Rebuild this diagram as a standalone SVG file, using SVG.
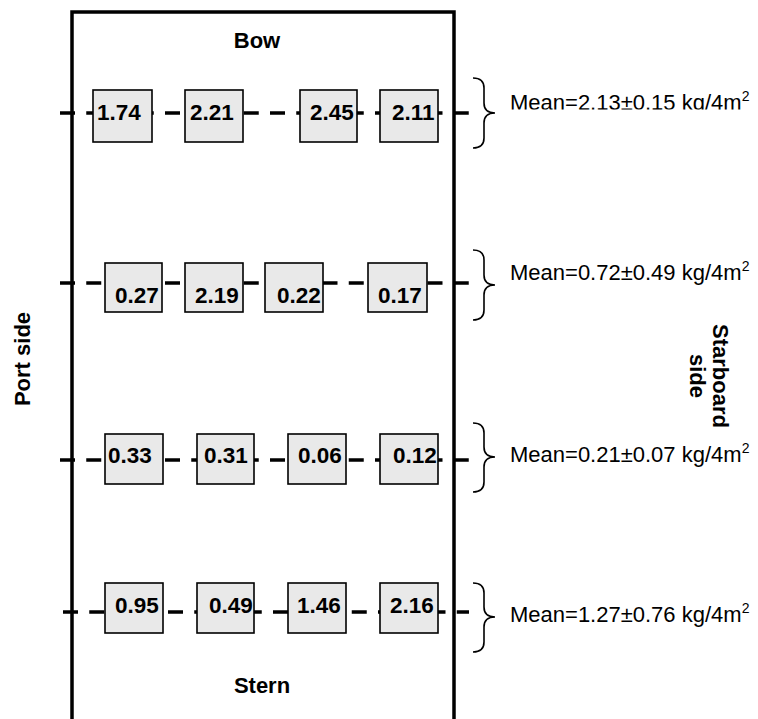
<svg xmlns="http://www.w3.org/2000/svg" width="758" height="719" viewBox="0 0 758 719">
  <style>
    .hull { fill: none; stroke: #000; stroke-width: 3.5; }
    .row { stroke: #000; stroke-width: 3.5; stroke-dasharray: 15 11.25; fill: none; }
    .box { fill: #e9e9e9; stroke: #000; stroke-width: 1.6; }
    .val { font-family: "Liberation Sans", Arial, sans-serif; font-weight: bold; font-size: 22.5px; fill: #000; }
    .lbl { font-family: "Liberation Sans", Arial, sans-serif; font-weight: bold; font-size: 22px; fill: #000; }
    .mean { font-family: "Liberation Sans", Arial, sans-serif; font-size: 22px; fill: #000; }
    .sup { font-size: 14px; }
    .brace { fill: none; stroke: #000; stroke-width: 1.6; }
  </style>
  <defs>
    <clipPath id="clipRow1">
      <rect x="500" y="80" width="258" height="29.5"/>
    </clipPath>
  </defs>
  <rect width="758" height="719" fill="#fff"/>

  <!-- hull outline (open at the stern end) -->
  <g id="hull">
    <path class="hull" d="M72,721 L72,12 L454,12 L454,721"/>
    <text class="lbl" x="257" y="48" text-anchor="middle" font-size="21">Bow</text>
    <text class="lbl" x="262" y="693" text-anchor="middle">Stern</text>
  </g>

  <!-- side labels -->
  <g id="port-label">
    <text class="lbl" transform="translate(30,359) rotate(-90)" text-anchor="middle">Port side</text>
  </g>
  <g id="starboard-label">
    <text class="lbl" transform="translate(713,376) rotate(90)" text-anchor="middle">Starboard</text>
    <text class="lbl" transform="translate(690,376) rotate(90)" text-anchor="middle">side</text>
  </g>

  <!-- transect lines -->
  <g id="connectors">
    <line class="row" x1="60" y1="113" x2="469" y2="113"/>
    <line class="row" x1="60" y1="283" x2="469" y2="283"/>
    <line class="row" x1="60" y1="460" x2="469" y2="460"/>
    <line class="row" x1="63" y1="612" x2="469" y2="612"/>
  </g>

  <!-- row 1 -->
  <g id="r1c1"><rect class="box" x="93" y="90" width="59" height="52"/><text class="val" x="97" y="120">1.74</text></g>
  <g id="r1c2"><rect class="box" x="185" y="90" width="58" height="52"/><text class="val" x="190" y="120">2.21</text></g>
  <g id="r1c3"><rect class="box" x="300" y="90" width="57" height="52"/><text class="val" x="310" y="120">2.45</text></g>
  <g id="r1c4"><rect class="box" x="380" y="90" width="58" height="52"/><text class="val" x="392" y="120">2.11</text></g>

  <!-- row 2 -->
  <g id="r2c1"><rect class="box" x="105" y="263" width="57" height="49"/><text class="val" x="115" y="303">0.27</text></g>
  <g id="r2c2"><rect class="box" x="185" y="263" width="58" height="49"/><text class="val" x="195" y="303">2.19</text></g>
  <g id="r2c3"><rect class="box" x="265" y="263" width="58" height="49"/><text class="val" x="277" y="303">0.22</text></g>
  <g id="r2c4"><rect class="box" x="368" y="263" width="59" height="49"/><text class="val" x="378" y="303">0.17</text></g>

  <!-- row 3 -->
  <g id="r3c1"><rect class="box" x="105" y="434" width="58" height="50"/><text class="val" x="108" y="463">0.33</text></g>
  <g id="r3c2"><rect class="box" x="197" y="434" width="57" height="50"/><text class="val" x="204" y="463">0.31</text></g>
  <g id="r3c3"><rect class="box" x="288" y="434" width="58" height="50"/><text class="val" x="298" y="463">0.06</text></g>
  <g id="r3c4"><rect class="box" x="380" y="434" width="58" height="50"/><text class="val" x="393" y="463">0.12</text></g>

  <!-- row 4 -->
  <g id="r4c1"><rect class="box" x="105" y="583" width="58" height="50"/><text class="val" x="115" y="613">0.95</text></g>
  <g id="r4c2"><rect class="box" x="197" y="583" width="57" height="50"/><text class="val" x="209" y="613">0.49</text></g>
  <g id="r4c3"><rect class="box" x="288" y="583" width="58" height="50"/><text class="val" x="297" y="613">1.46</text></g>
  <g id="r4c4"><rect class="box" x="380" y="583" width="58" height="50"/><text class="val" x="390" y="613">2.16</text></g>

  <!-- row means -->
  <g id="mean1">
    <path class="brace" d="M473,78 Q484,78 484,88 L484,103 Q484,113 495,113 Q484,113 484,123 L484,138 Q484,148 473,148"/>
    <text class="mean" x="510" y="110" clip-path="url(#clipRow1)">Mean=2.13±0.15 kg/4m<tspan class="sup" dy="-9">2</tspan></text>
  </g>
  <g id="mean2">
    <path class="brace" d="M473,250 Q484,250 484,260 L484,275 Q484,285 495,285 Q484,285 484,295 L484,310 Q484,320 473,320"/>
    <text class="mean" x="510" y="280">Mean=0.72±0.49 kg/4m<tspan class="sup" dy="-9">2</tspan></text>
  </g>
  <g id="mean3">
    <path class="brace" d="M473,423 Q484,423 484,433 L484,447 Q484,457 495,457 Q484,457 484,467 L484,482 Q484,492 473,492"/>
    <text class="mean" x="510" y="462">Mean=0.21±0.07 kg/4m<tspan class="sup" dy="-9">2</tspan></text>
  </g>
  <g id="mean4">
    <path class="brace" d="M473,583 Q484,583 484,593 L484,607 Q484,617 495,617 Q484,617 484,627 L484,642 Q484,652 473,652"/>
    <text class="mean" x="510" y="622">Mean=1.27±0.76 kg/4m<tspan class="sup" dy="-9">2</tspan></text>
  </g>
</svg>
